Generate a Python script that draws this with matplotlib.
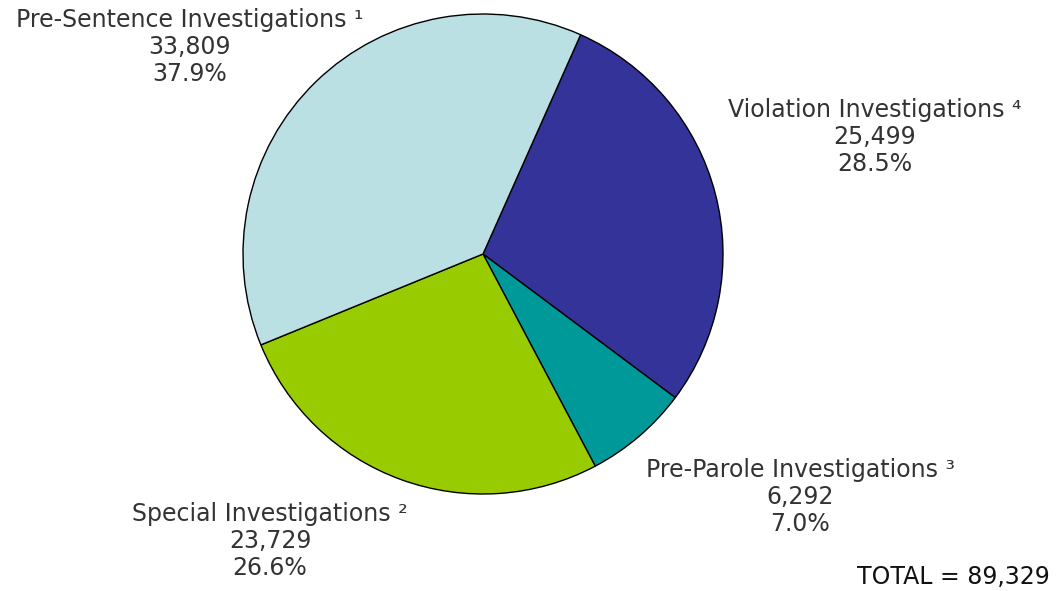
import matplotlib
matplotlib.use("Agg")
from matplotlib import pyplot as plt

plt.rcParams['font.family'] = ['DejaVu Sans']

# Data
categories = ['Violation Investigations', 'Pre-Parole Investigations',
              'Special Investigations', 'Pre-Sentence Investigations']
notes = ['\u2074', '\u00b3', '\u00b2', '\u00b9']
counts = [25499, 6292, 23729, 33809]
percents = [28.5, 7.0, 26.6, 37.9]
colors = ['#333399', '#009999', '#99cc00', '#bae0e3']
total = 89329

W, H = 1058, 591
fig = plt.figure(figsize=(W / 100, H / 100), dpi=100)
ax = fig.add_axes([0, 0, 1, 1])

ax.pie(counts, colors=colors, startangle=66, counterclock=False,
       center=(483, H - 254), radius=240,
       wedgeprops={'edgecolor': 'black', 'linewidth': 1})
ax.set_xlim(0, W)
ax.set_ylim(0, H)
ax.set_aspect('equal')
ax.axis('off')

# label positions (pixel coords, middle line)
label_xy = [(875, 137), (800, 497), (270, 541), (190, 47)]
for name, note, n, p, (x, y) in zip(categories, notes, counts, percents, label_xy):
    txt = f'{name} {note}\n{n:,}\n{p:.1f}%'
    ax.text(x, H - y, txt, ha='center', va='center', fontsize=17,
            color='#333333', linespacing=1.17)

ax.text(1050, H - 577, f'TOTAL = {total:,}', ha='right', va='center',
        fontsize=17, color='#111111')

fig.savefig('out.png', dpi=100)
